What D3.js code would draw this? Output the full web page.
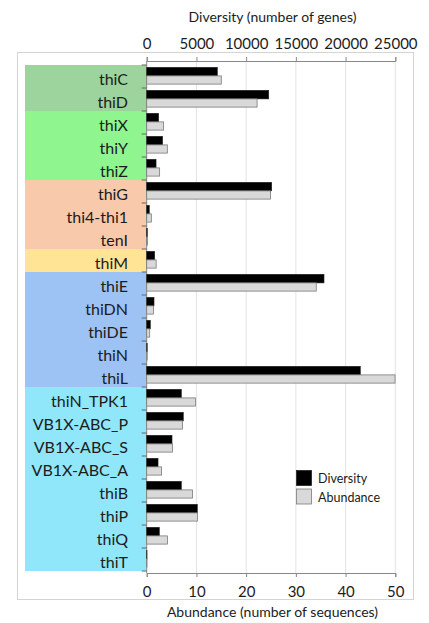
<!DOCTYPE html>
<html><head><meta charset="utf-8">
<script src="https://cdn.jsdelivr.net/npm/d3@7"></script>
<style>body{margin:0;background:#fff}svg{display:block}text{font-family:Lato,"Open Sans",sans-serif}</style>
</head><body>
<svg id="c" width="429" height="623"></svg>
<script>
const genes = ["thiC","thiD","thiX","thiY","thiZ","thiG","thi4-thi1","tenI","thiM","thiE","thiDN","thiDE","thiN","thiL","thiN_TPK1","VB1X-ABC_P","VB1X-ABC_S","VB1X-ABC_A","thiB","thiP","thiQ","thiT"];
const diversity = [7100,12270,1200,1600,940,12570,260,60,800,17830,735,365,50,21480,3480,3680,2545,1140,3480,5090,1270,30];
const abundance = [15.0,22.2,3.4,4.15,2.6,24.9,0.93,0.15,1.9,34.1,1.35,0.6,0.1,49.95,9.8,7.2,5.2,3.0,9.2,10.2,4.2,0.05];
const groupSizes = [2,3,3,1,5,8];
const groupColors = ["#9DD49D","#8FF58F","#F8C9AA","#FFE496","#9DC3F4","#90E7FA"];
const divTicks = [0,5000,10000,15000,20000,25000];
const abuTicks = [0,10,20,30,40,50];
const legendLabels = ["Diversity","Abundance"];

const svg = d3.select("#c");
const x0 = 146.7, x1 = 395.3, yTop = 61, yBot = 573;
const xD = d3.scaleLinear().domain([0,25000]).range([x0,x1]);
const xA = d3.scaleLinear().domain([0,50]).range([x0,x1]);
const y = d3.scaleBand().domain(genes).range([65,571]).padding(0);
const bw = y.bandwidth();

// frame
svg.append("rect").attr("x",17.5).attr("y",52.5).attr("width",396).attr("height",547)
  .attr("fill","none").attr("stroke","#d4d4d4").attr("stroke-width",1);

// gridlines
svg.append("g").selectAll("line").data(divTicks.slice(1)).join("line")
  .attr("x1",d=>xD(d)).attr("x2",d=>xD(d)).attr("y1",yTop).attr("y2",yBot)
  .attr("stroke","#e3e3e3").attr("stroke-width",1);

// group bands
let start = 0;
groupSizes.forEach((n,i)=>{
  const yS = y(genes[start]);
  const yE = y(genes[start+n-1]) + bw;
  svg.append("rect").attr("x",25).attr("y",yS).attr("width",x0-25).attr("height",yE-yS).attr("fill",groupColors[i]);
  start += n;
});

// category labels
svg.append("g").selectAll("text").data(genes).join("text")
  .attr("x",128).attr("y",d=>y(d)+bw/2+8)
  .attr("text-anchor","end").attr("font-size",16).attr("fill","#1c1c1c").text(d=>d);

// y-axis ticks at boundaries
const yAxis = svg.append("g");
yAxis.append("line").attr("x1",x0).attr("x2",x0).attr("y1",yTop).attr("y2",yBot).attr("stroke","#888");
yAxis.selectAll("line.t").data(d3.range(genes.length+1)).join("line").attr("class","t")
  .attr("x1",x0-5).attr("x2",x0).attr("y1",i=>65+i*bw).attr("y2",i=>65+i*bw).attr("stroke","#666");

// bars
const bh = 8.6;
svg.append("g").selectAll("rect").data(genes).join("rect")
  .attr("x",x0).attr("y",d=>y(d)+2.3).attr("width",(d,i)=>xD(diversity[i])-x0).attr("height",bh)
  .attr("fill","#000").attr("stroke","#222").attr("stroke-width",0.6);
svg.append("g").selectAll("rect").data(genes).join("rect")
  .attr("x",x0).attr("y",d=>y(d)+2.3+bh).attr("width",(d,i)=>xA(abundance[i])-x0).attr("height",bh-0.4)
  .attr("fill","#D9D9D9").attr("stroke","#7a7a7a").attr("stroke-width",0.8);

// top axis
const gT = svg.append("g").attr("transform",`translate(0,${yTop})`)
  .call(d3.axisTop(xD).tickValues(divTicks).tickSize(4).tickPadding(8.5).tickFormat(d3.format("d")));
gT.select(".domain").attr("stroke","#888");
gT.selectAll(".tick line").attr("stroke","#888");
gT.selectAll("text").attr("font-size",15).attr("fill","#1c1c1c").attr("font-family","Lato");

// bottom axis
const gB = svg.append("g").attr("transform",`translate(0,${yBot})`)
  .call(d3.axisBottom(xA).tickValues(abuTicks).tickSize(4).tickPadding(9));
gB.select(".domain").attr("stroke","#888");
gB.selectAll(".tick line").attr("stroke","#888");
gB.selectAll("text").attr("font-size",15).attr("fill","#1c1c1c").attr("font-family","Lato");

// titles
svg.append("text").attr("x",272.5).attr("y",21.5).attr("text-anchor","middle").attr("font-size",14).attr("fill","#1c1c1c").text("Diversity (number of genes)");
svg.append("text").attr("x",272.5).attr("y",617).attr("text-anchor","middle").attr("font-size",14).attr("fill","#1c1c1c").text("Abundance (number of sequences)");

// legend
const lg = svg.append("g");
const lFill = ["#000","#D9D9D9"], lStroke = ["#222","#7a7a7a"];
legendLabels.forEach((t,i)=>{
  lg.append("rect").attr("x",296.5).attr("y",470.5+i*18.5).attr("width",15).attr("height",15)
    .attr("fill",lFill[i]).attr("stroke",lStroke[i]).attr("stroke-width",0.8);
  lg.append("text").attr("x",318).attr("y",483+i*18.5).attr("font-size",12.5).attr("fill","#1c1c1c").text(t);
});
</script>
</body></html>
